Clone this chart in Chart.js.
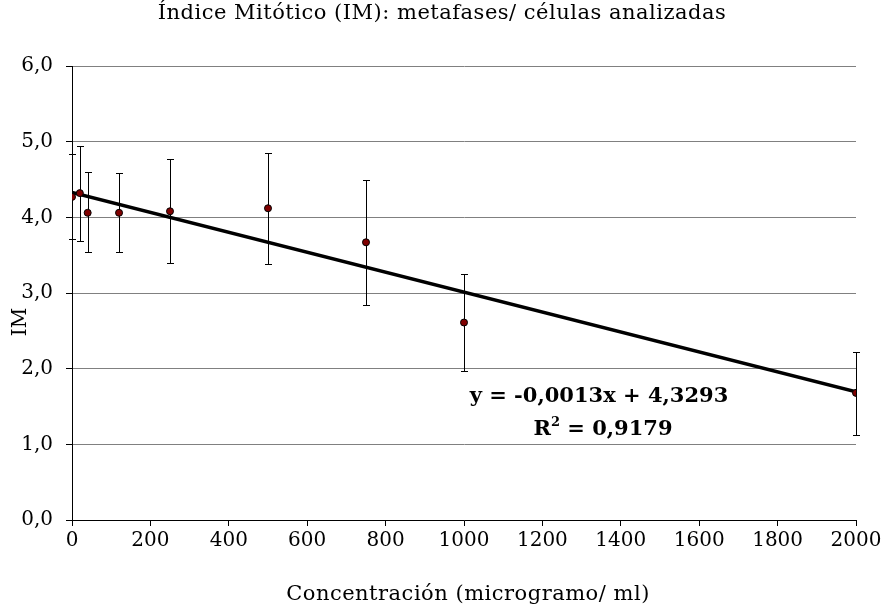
<!DOCTYPE html>
<html>
<head>
<meta charset="utf-8">
<script src="https://cdn.jsdelivr.net/npm/chart.js@4.4.0/dist/chart.umd.min.js"></script>
<style>
  html, body { margin: 0; padding: 0; background: #fff; }
  #wrap { width: 885px; height: 609px; }
</style>
</head>
<body>
<div id="wrap"><canvas id="chart" width="885" height="609"></canvas></div>
<script>
// Datos
const concentraciones = [0, 20, 40, 120, 250, 500, 750, 1000, 2000];
const indiceMitotico = [4.27, 4.32, 4.06, 4.06, 4.08, 4.12, 3.67, 2.61, 1.68];
const errorSuperior = [4.84, 4.94, 4.60, 4.59, 4.77, 4.85, 4.49, 3.25, 2.22];
const errorInferior = [3.71, 3.69, 3.54, 3.54, 3.40, 3.38, 2.84, 1.97, 1.12];

// Recta de tendencia (Excel)
const pendiente = -0.001318;
const intercepto = 4.3293;
const rangoTendencia = [0, 2000];
const ecuacion = 'y = -0,0013x + 4,3293';
const r2 = ['R', '2', ' = 0,9179'];

const titulo = 'Índice Mitótico (IM): metafases/ células analizadas';
const tituloX = 'Concentración (microgramo/ ml)';
const tituloY = 'IM';

const serif = "'DejaVu Serif', 'Liberation Serif', serif";

// Barras de error y textos
const errorBars = {
  id: 'errorBars',
  beforeDatasetsDraw(chart) {
    const { ctx, scales: { x, y } } = chart;
    ctx.save();
    ctx.strokeStyle = '#000';
    ctx.lineWidth = 1;
    concentraciones.forEach((c, i) => {
      const px = Math.round(x.getPixelForValue(c)) + 0.5;
      const top = Math.round(y.getPixelForValue(errorSuperior[i])) + 0.5;
      const bot = Math.round(y.getPixelForValue(errorInferior[i])) + 0.5;
      ctx.beginPath();
      ctx.moveTo(px, top); ctx.lineTo(px, bot);
      ctx.moveTo(px - 3.5, top); ctx.lineTo(px + 3.5, top);
      ctx.moveTo(px - 3.5, bot); ctx.lineTo(px + 3.5, bot);
      ctx.stroke();
    });
    ctx.restore();
  },
  afterDraw(chart) {
    const { ctx } = chart;
    ctx.save();
    ctx.fillStyle = '#000';
    ctx.textAlign = 'center';
    ctx.textBaseline = 'middle';
    ctx.font = "21px " + serif;
    ctx.letterSpacing = '0.5px';
    ctx.fillText(titulo, 442, 14);
    ctx.fillText(tituloX, 468, 595);
    ctx.letterSpacing = '0px';

    // título del eje Y
    ctx.save();
    ctx.translate(21, 322);
    ctx.rotate(-Math.PI / 2);
    ctx.font = "20px " + serif;
    ctx.fillText(tituloY, 0, 0);
    ctx.restore();

    // ecuación de la recta
    ctx.font = "bold 21px " + serif;
    ctx.fillText(ecuacion, 599, 397);
    ctx.textAlign = 'left';
    ctx.textBaseline = 'alphabetic';
    const big = "bold 21px " + serif, small = "bold 13px " + serif;
    ctx.font = big;
    const wR = ctx.measureText(r2[0]).width;
    const wRest = ctx.measureText(r2[2]).width;
    ctx.font = small;
    const w2 = ctx.measureText(r2[1]).width;
    let xx = 603 - (wR + w2 + wRest) / 2;
    const base = 435;
    ctx.font = big;
    ctx.fillText(r2[0], xx, base);
    xx += wR;
    ctx.font = small;
    ctx.fillText(r2[1], xx, base - 9);
    xx += w2;
    ctx.font = big;
    ctx.fillText(r2[2], xx, base);
    ctx.restore();
  }
};

new Chart(document.getElementById('chart'), {
  type: 'scatter',
  data: {
    datasets: [{
      label: 'IM',
      data: concentraciones.map((c, i) => ({ x: c, y: indiceMitotico[i] })),
      backgroundColor: '#800000',
      borderColor: '#000',
      borderWidth: 1,
      pointRadius: 3.5,
      order: 0
    }, {
      label: 'Tendencia',
      type: 'line',
      data: rangoTendencia.map(c => ({ x: c, y: pendiente * c + intercepto })),
      borderColor: '#000',
      borderWidth: 3.5,
      pointRadius: 0,
      fill: false,
      order: 1
    }]
  },
  options: {
    responsive: false,
    animation: false,
    layout: { padding: { left: 0, right: 29, top: 66, bottom: 0 } },
    plugins: {
      legend: { display: false },
      tooltip: { enabled: false },
      title: { display: false }
    },
    scales: {
      x: {
        type: 'linear',
        min: 0,
        max: 2000,
        afterFit: s => { s.height = 89; },
        border: { display: true, color: '#000', width: 1 },
        grid: { drawOnChartArea: false, drawTicks: true, tickLength: 6, color: '#000' },
        ticks: {
          stepSize: 200,
          color: '#000',
          padding: 3,
          maxRotation: 0,
          font: { family: serif, size: 20 },
          callback: v => String(v)
        }
      },
      y: {
        min: 0,
        max: 6,
        afterFit: s => { s.width = 72; },
        border: { display: true, color: '#000', width: 1 },
        grid: { color: '#808080', lineWidth: 1, drawTicks: true, tickLength: 6, tickColor: '#000' },
        ticks: {
          stepSize: 1,
          color: '#000',
          padding: 13,
          font: { family: serif, size: 20 },
          callback: v => v.toFixed(1).replace('.', ',')
        }
      }
    }
  },
  plugins: [errorBars]
});
</script>
</body>
</html>
